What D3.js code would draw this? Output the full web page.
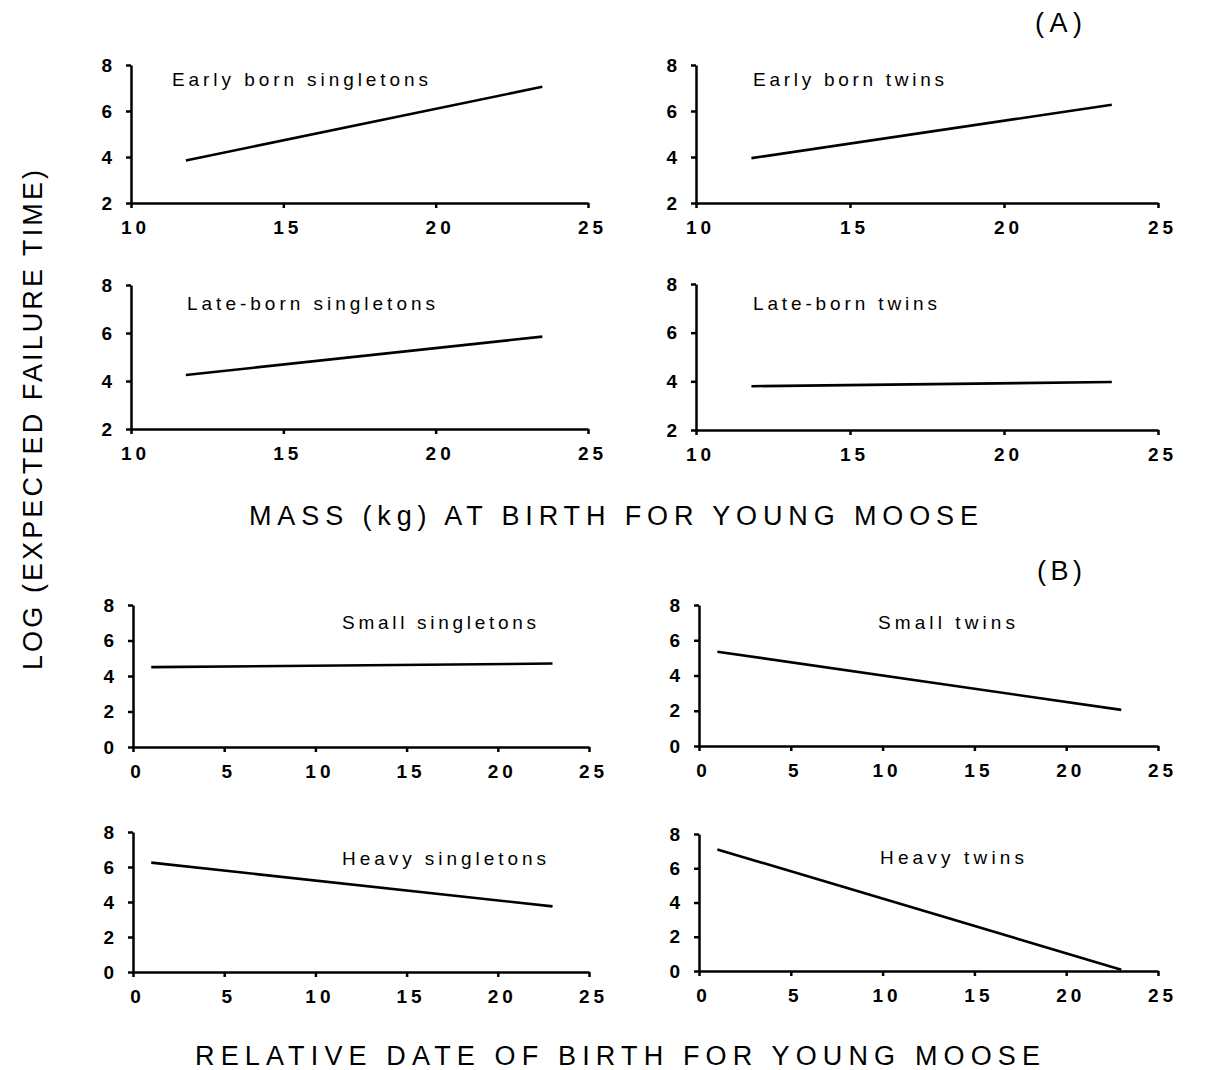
<!DOCTYPE html>
<html>
<head>
<meta charset="utf-8">
<script src="https://cdn.jsdelivr.net/npm/d3@7"></script>
<style>
  body { margin: 0; background: #fff; }
  svg { display: block; font-family: "Liberation Sans", Arial, sans-serif; }
  .axis path, .axis line { stroke: #000; stroke-width: 2.5; }
  .axis text { font-size: 19px; font-weight: bold; fill: #000; letter-spacing: 4px; }
  .fit { stroke: #000; stroke-width: 2.6; fill: none; }
  .panel-title { font-size: 19px; fill: #000; }
  .big-label { font-size: 27px; fill: #000; }
</style>
</head>
<body>
<svg></svg>
<script>
var width = 1206,
    height = 1070;

// (A) log expected failure time vs birth mass
var massX = [11.8, 23.5];
var earlySingletons = [3.85, 7.05];
var earlyTwins = [3.95, 6.27];
var lateSingletons = [4.25, 5.85];
var lateTwins = [3.8, 3.97];

// (B) log expected failure time vs relative birth date
var dateX = [1, 23];
var smallSingletons = [4.5, 4.7];
var smallTwins = [5.35, 2.05];
var heavySingletons = [6.25, 3.75];
var heavyTwins = [7.1, 0.08];

var massTicks = [10, 15, 20, 25];
var logTicksA = [2, 4, 6, 8];
var dateTicks = [0, 5, 10, 15, 20, 25];
var logTicksB = [0, 2, 4, 6, 8];

var titles = ["Early born singletons", "Early born twins", "Late-born singletons", "Late-born twins",
              "Small singletons", "Small twins", "Heavy singletons", "Heavy twins"];

var svg = d3.select("svg")
    .attr("width", width)
    .attr("height", height);

// panel boxes: left, right, top, bottom, title x / width / baseline
var panels = [
  {l: 131, r: 588, t: 65, b: 203, xs: massX, ys: earlySingletons, xd: [10, 25], yd: [2, 8], xt: massTicks, yt: logTicksA, tx: 172, tw: 256, ty: 86},
  {l: 696, r: 1158, t: 65, b: 203, xs: massX, ys: earlyTwins, xd: [10, 25], yd: [2, 8], xt: massTicks, yt: logTicksA, tx: 753, tw: 191, ty: 86},
  {l: 131, r: 588, t: 285, b: 429, xs: massX, ys: lateSingletons, xd: [10, 25], yd: [2, 8], xt: massTicks, yt: logTicksA, tx: 187, tw: 248, ty: 310},
  {l: 696, r: 1158, t: 284, b: 430, xs: massX, ys: lateTwins, xd: [10, 25], yd: [2, 8], xt: massTicks, yt: logTicksA, tx: 753, tw: 184, ty: 310},
  {l: 133, r: 589, t: 605, b: 747, xs: dateX, ys: smallSingletons, xd: [0, 25], yd: [0, 8], xt: dateTicks, yt: logTicksB, tx: 342, tw: 194, ty: 629},
  {l: 699, r: 1158, t: 605, b: 746, xs: dateX, ys: smallTwins, xd: [0, 25], yd: [0, 8], xt: dateTicks, yt: logTicksB, tx: 878, tw: 137, ty: 629},
  {l: 133, r: 589, t: 832, b: 972, xs: dateX, ys: heavySingletons, xd: [0, 25], yd: [0, 8], xt: dateTicks, yt: logTicksB, tx: 342, tw: 204, ty: 865},
  {l: 699, r: 1158, t: 834, b: 971, xs: dateX, ys: heavyTwins, xd: [0, 25], yd: [0, 8], xt: dateTicks, yt: logTicksB, tx: 880, tw: 144, ty: 864}
];

panels.forEach(function(p, i) {
  var x = d3.scaleLinear().domain(p.xd).range([p.l, p.r]);
  var y = d3.scaleLinear().domain(p.yd).range([p.b, p.t]);

  svg.append("g")
      .attr("class", "axis")
      .attr("transform", "translate(0," + p.b + ")")
      .call(d3.axisBottom(x).tickValues(p.xt).tickFormat(d3.format("d"))
        .tickSize(5).tickSizeOuter(0).tickPadding(13))
    .selectAll("text")
      .attr("dx", "4px");

  svg.append("g")
      .attr("class", "axis")
      .attr("transform", "translate(" + p.l + ",0)")
      .call(d3.axisLeft(y).tickValues(p.yt).tickFormat(d3.format("d"))
        .tickSize(5).tickSizeOuter(0).tickPadding(14))
    .selectAll("text")
      .style("letter-spacing", "0px");

  var pts = p.xs.map(function(v, j) { return [v, p.ys[j]]; });
  svg.append("path")
      .attr("class", "fit")
      .attr("d", d3.line().x(function(d) { return x(d[0]); }).y(function(d) { return y(d[1]); })(pts));

  svg.append("text")
      .attr("class", "panel-title")
      .attr("x", p.tx)
      .attr("y", p.ty)
      .attr("textLength", p.tw)
      .attr("lengthAdjust", "spacing")
      .text(titles[i]);
});

svg.append("text")
    .attr("class", "big-label")
    .attr("x", 249).attr("y", 525)
    .attr("textLength", 729).attr("lengthAdjust", "spacing")
    .text("MASS (kg) AT BIRTH FOR YOUNG MOOSE");

svg.append("text")
    .attr("class", "big-label")
    .attr("x", 195).attr("y", 1065)
    .attr("textLength", 845).attr("lengthAdjust", "spacing")
    .text("RELATIVE DATE OF BIRTH FOR YOUNG MOOSE");

svg.append("text")
    .attr("class", "big-label")
    .attr("transform", "translate(42,670) rotate(-90)")
    .attr("textLength", 500).attr("lengthAdjust", "spacing")
    .text("LOG (EXPECTED FAILURE TIME)");

svg.append("text")
    .attr("class", "big-label")
    .attr("x", 1035).attr("y", 32)
    .attr("textLength", 47).attr("lengthAdjust", "spacing")
    .text("(A)");

svg.append("text")
    .attr("class", "big-label")
    .attr("x", 1037).attr("y", 580)
    .attr("textLength", 45).attr("lengthAdjust", "spacing")
    .text("(B)");
</script>
</body>
</html>
